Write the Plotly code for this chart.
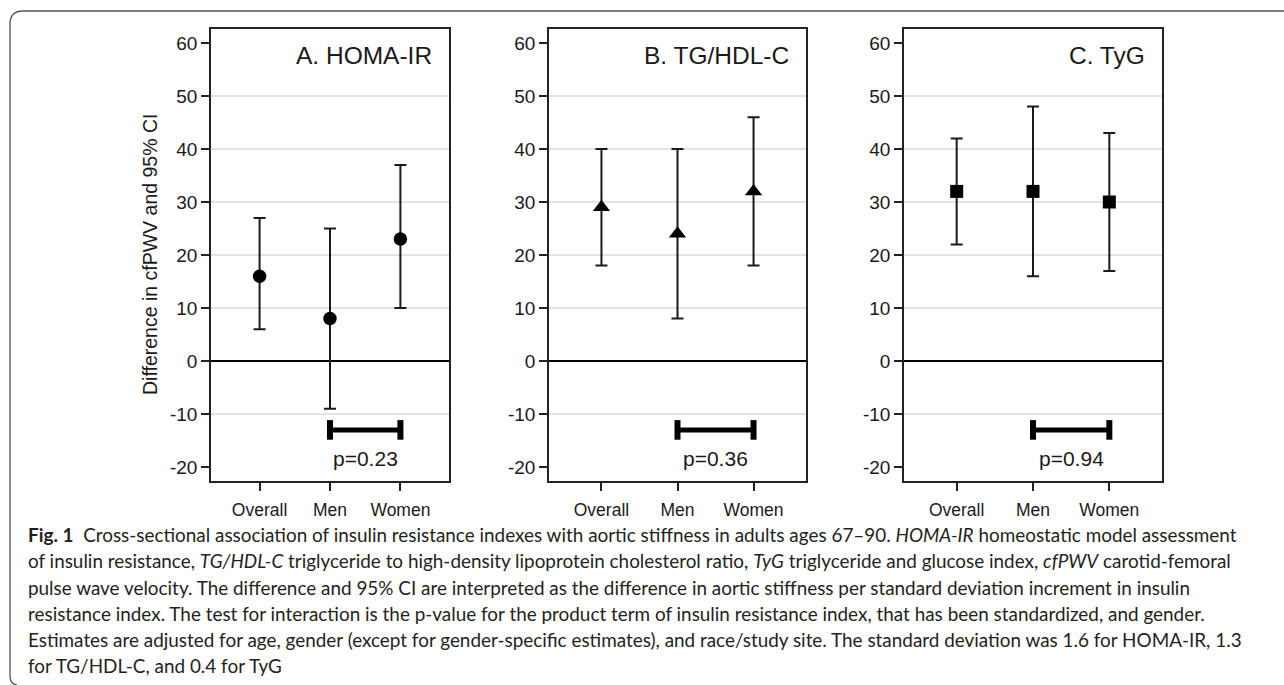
import plotly.graph_objects as go

W, H = 1284, 685

# ---------------- data ----------------
categories = ["Overall", "Men", "Women"]
panel_titles = ["A. HOMA-IR", "B. TG/HDL-C", "C. TyG"]

homa_est = [16, 8, 23]
homa_lo = [6, -9, 10]
homa_hi = [27, 25, 37]

tghdl_est = [29, 24, 32]
tghdl_lo = [18, 8, 18]
tghdl_hi = [40, 40, 46]

tyg_est = [32, 32, 30]
tyg_lo = [22, 16, 17]
tyg_hi = [42, 48, 43]

p_labels = ["p=0.23", "p=0.36", "p=0.94"]
interaction_groups = ["Men", "Women"]

y_ticks = [-20, -10, 0, 10, 20, 30, 40, 50, 60]
grid_values = [-10, 10, 20, 30, 40, 50]

y_title = "Difference in cfPWV and 95% CI"

caption_lines = [
    "<b>Fig. 1</b>  Cross-sectional association of insulin resistance indexes with aortic stiffness in adults ages 67\u201390. <i>HOMA-IR</i> homeostatic model assessment",
    "of insulin resistance, <i>TG/HDL-C</i> triglyceride to high-density lipoprotein cholesterol ratio, <i>TyG</i> triglyceride and glucose index, <i>cfPWV</i> carotid-femoral",
    "pulse wave velocity. The difference and 95% CI are interpreted as the difference in aortic stiffness per standard deviation increment in insulin",
    "resistance index. The test for interaction is the p-value for the product term of insulin resistance index, that has been standardized, and gender.",
    "Estimates are adjusted for age, gender (except for gender-specific estimates), and race/study site. The standard deviation was 1.6 for HOMA-IR, 1.3",
    "for TG/HDL-C, and 0.4 for TyG",
]

# ---------------- styling / layout constants ----------------
BRACKET_Y = -13
P_TEXT_Y = -18.4
Y_RANGE = [-22.64, 62.64]
X_RANGE = [-0.69, 2.69]
FONT = "Liberation Sans, Arial, sans-serif"
CAP_FONT = "Lato, Open Sans, sans-serif"
INK = "#1a1a1a"


def px(x):
    return x / W


def py(y):
    return 1 - y / H


panel_x_px = [(211, 449), (549, 806), (904, 1162)]
panel_y_px = (29, 481)
symbols = ["circle", "triangle-up", "square"]
sizes = [13.5, 15, 13]
series = [
    (homa_est, homa_lo, homa_hi),
    (tghdl_est, tghdl_lo, tghdl_hi),
    (tyg_est, tyg_lo, tyg_hi),
]

fig = go.Figure()
shapes = []
annotations = []

for i, (est, lo, hi) in enumerate(series):
    sfx = "" if i == 0 else str(i + 1)
    xa, ya = "x" + sfx, "y" + sfx
    fig.add_trace(go.Scatter(
        x=categories, y=est, xaxis=xa, yaxis=ya, mode="markers",
        marker=dict(symbol=symbols[i], size=sizes[i], color="black"),
        error_y=dict(type="data", symmetric=False,
                     array=[h - e for h, e in zip(hi, est)],
                     arrayminus=[e - l for e, l in zip(est, lo)],
                     color=INK, thickness=2, width=6),
        showlegend=False, hoverinfo="skip",
    ))
    fig.add_trace(go.Scatter(
        x=interaction_groups, y=[BRACKET_Y] * len(interaction_groups),
        xaxis=xa, yaxis=ya, mode="lines+markers",
        line=dict(color="black", width=5),
        marker=dict(symbol="line-ns", size=14, color="black",
                    line=dict(color="black", width=6)),
        showlegend=False, hoverinfo="skip",
    ))
    axis_common = dict(
        showline=True, mirror=True, linecolor="#222", linewidth=1.6,
        ticks="outside", ticklen=8, tickwidth=1.5, tickcolor="#222",
        showgrid=False,
    )
    x0, x1 = panel_x_px[i]
    fig.update_layout({
        "xaxis" + sfx: dict(
            axis_common, domain=[px(x0), px(x1)], anchor=ya,
            type="category", categoryorder="array", categoryarray=categories,
            range=X_RANGE, zeroline=False, ticklabelstandoff=4,
            tickfont=dict(family=FONT, size=17.5, color=INK),
        ),
        "yaxis" + sfx: dict(
            axis_common, domain=[py(panel_y_px[1]), py(panel_y_px[0])], anchor=xa,
            range=Y_RANGE, tickvals=y_ticks, ticktext=[str(v) for v in y_ticks],
            zeroline=True, zerolinecolor="black", zerolinewidth=1.6,
            tickfont=dict(family=FONT, size=19, color=INK),
        ),
    })
    for g in grid_values:
        shapes.append(dict(type="line", xref=xa + " domain", yref=ya,
                           x0=0, x1=1, y0=g, y1=g, layer="below",
                           line=dict(color="#dadada", width=1.6)))
    annotations.append(dict(
        text=panel_titles[i], xref=xa + " domain", yref=ya + " domain",
        x=1, y=1, xanchor="right", yanchor="middle", xshift=-15, yshift=-26,
        showarrow=False, font=dict(family=FONT, size=24.5, color=INK),
    ))
    annotations.append(dict(
        text=p_labels[i], xref=xa, yref=ya, x=1.5, y=P_TEXT_Y,
        xanchor="center", yanchor="middle", showarrow=False,
        font=dict(family=FONT, size=21, color=INK),
    ))

annotations.append(dict(
    text=y_title, xref="paper", yref="paper", x=px(150), y=py(255),
    xanchor="center", yanchor="middle", textangle=-90, showarrow=False,
    font=dict(family=FONT, size=19.5, color=INK),
))

cap_y = [534, 560.5, 587, 613, 639, 665]
for line, yy in zip(caption_lines, cap_y):
    annotations.append(dict(
        text=line, xref="paper", yref="paper", x=px(26), y=py(yy),
        xanchor="left", yanchor="middle", showarrow=False,
        font=dict(family=CAP_FONT, size=18.9, color="#231f20"),
    ))

# outer frame (top + left with rounded corners)
shapes.append(dict(
    type="path", xref="paper", yref="paper",
    path=(f"M {px(1284)},{py(11)} L {px(23)},{py(11)} "
          f"Q {px(10)},{py(11)} {px(10)},{py(24)} "
          f"L {px(10)},{py(676)} Q {px(10)},{py(684)} {px(17)},{py(685)}"),
    line=dict(color="#555", width=1.3),
))

fig.update_layout(
    width=W, height=H,
    margin=dict(l=0, r=0, t=0, b=0),
    paper_bgcolor="white", plot_bgcolor="white",
    shapes=shapes, annotations=annotations,
)

fig.write_html("out.html", config={"displayModeBar": False},
               post_script="document.body.style.margin='0';")
